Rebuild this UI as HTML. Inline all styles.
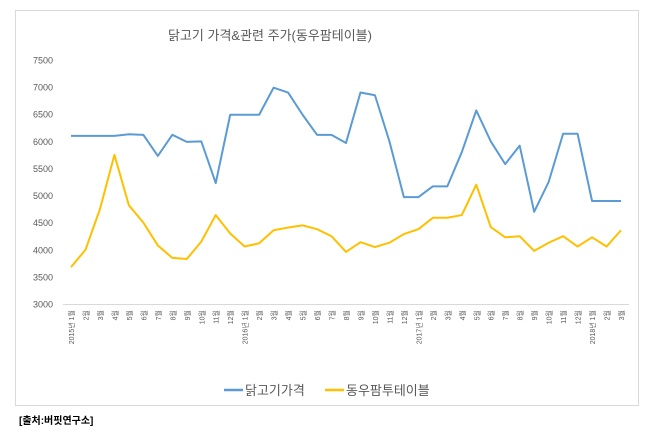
<!DOCTYPE html>
<html><head><meta charset="utf-8"><style>
body{margin:0;background:#fff;width:660px;height:437px;overflow:hidden;font-family:"Liberation Sans","Noto Sans CJK KR",sans-serif}
</style></head><body>
<svg width="660" height="437" style="position:absolute;left:0;top:0">
<rect x="15.5" y="10.5" width="623" height="395" fill="#fff" stroke="#d9d9d9"/>
<text x="270" y="40" text-anchor="middle" font-size="13" fill="#595959" font-family="Liberation Sans, Noto Sans CJK KR, sans-serif">닭고기 가격&amp;관련 주가(동우팜테이블)</text>
<g id="yaxis"></g>
<g id="xaxis"></g>
<g id="series"></g>
<g>
<line x1="224" y1="390" x2="243" y2="390" stroke="#5b9bd5" stroke-width="2.5"/>
<text x="245" y="395" font-size="13" fill="#595959">닭고기가격</text>
<line x1="325" y1="390" x2="344" y2="390" stroke="#ffc000" stroke-width="2.5"/>
<text x="346" y="395" font-size="13" fill="#595959">동우팜투테이블</text>
</g>
<text x="19" y="424" font-size="10" font-weight="bold" fill="#000">[출처:버핏연구소]</text>
</svg>
<script>
const months=["1","2","3","4","5","6","7","8","9","10","11","12","1","2","3","4","5","6","7","8","9","10","11","12","1","2","3","4","5","6","7","8","9","10","11","12","1","2","3"];
const yearLabels={0:"2015년 1",12:"2016년 1",24:"2017년 1",36:"2018년 1"};
const chickenPrice=[6100,6100,6100,6100,6130,6120,5730,6120,5990,6000,5230,6490,6490,6490,6990,6900,6490,6120,6120,5970,6900,6850,6000,4970,4970,5170,5170,5800,6570,6000,5580,5920,4700,5250,6140,6140,4900,4900,4900];
const stockPrice=[3680,4000,4750,5750,4820,4500,4080,3850,3830,4150,4640,4300,4060,4120,4360,4410,4450,4380,4250,3960,4140,4050,4130,4290,4380,4590,4590,4640,5200,4420,4230,4250,3980,4130,4250,4060,4230,4060,4360];
const yTicks=[3000,3500,4000,4500,5000,5500,6000,6500,7000,7500];
const NS="http://www.w3.org/2000/svg";
const x0=71,x1=621,yTop=60,yBot=304,vMin=3000,vMax=7500;
const xs=i=>x0+i*(x1-x0)/(months.length-1);
const ys=v=>yBot-(v-vMin)/(vMax-vMin)*(yBot-yTop);
function mk(t,a,p){const e=document.createElementNS(NS,t);for(const k in a)e.setAttribute(k,a[k]);p.appendChild(e);return e;}
const ya=document.getElementById('yaxis');
yTicks.forEach(v=>{const t=mk('text',{x:53,y:ys(v)+3.5,'text-anchor':'end','font-size':'9',fill:'#595959'},ya);t.textContent=v;

});
mk('line',{x1:63,y1:yBot+0.5,x2:629,y2:yBot+0.5,stroke:'#d9d9d9'},ya);
const xa=document.getElementById('xaxis');
months.forEach((m,i)=>{const lbl=(yearLabels[i]||m)+"월";
const t=mk('text',{transform:`translate(${xs(i)+3},${310}) rotate(-90)`,'text-anchor':'end','font-size':'7',fill:'#595959'},xa);t.textContent=lbl;

});
const sg=document.getElementById('series');
[[chickenPrice,'#5b9bd5','line-chicken-price'],[stockPrice,'#ffc000','line-stock-price']].forEach(([d,c,n])=>{
const p=mk('polyline',{points:d.map((v,i)=>xs(i)+','+ys(v)).join(' '),fill:'none',stroke:c,'stroke-width':'2','stroke-linejoin':'round'},sg);

});
</script>
</body></html>
